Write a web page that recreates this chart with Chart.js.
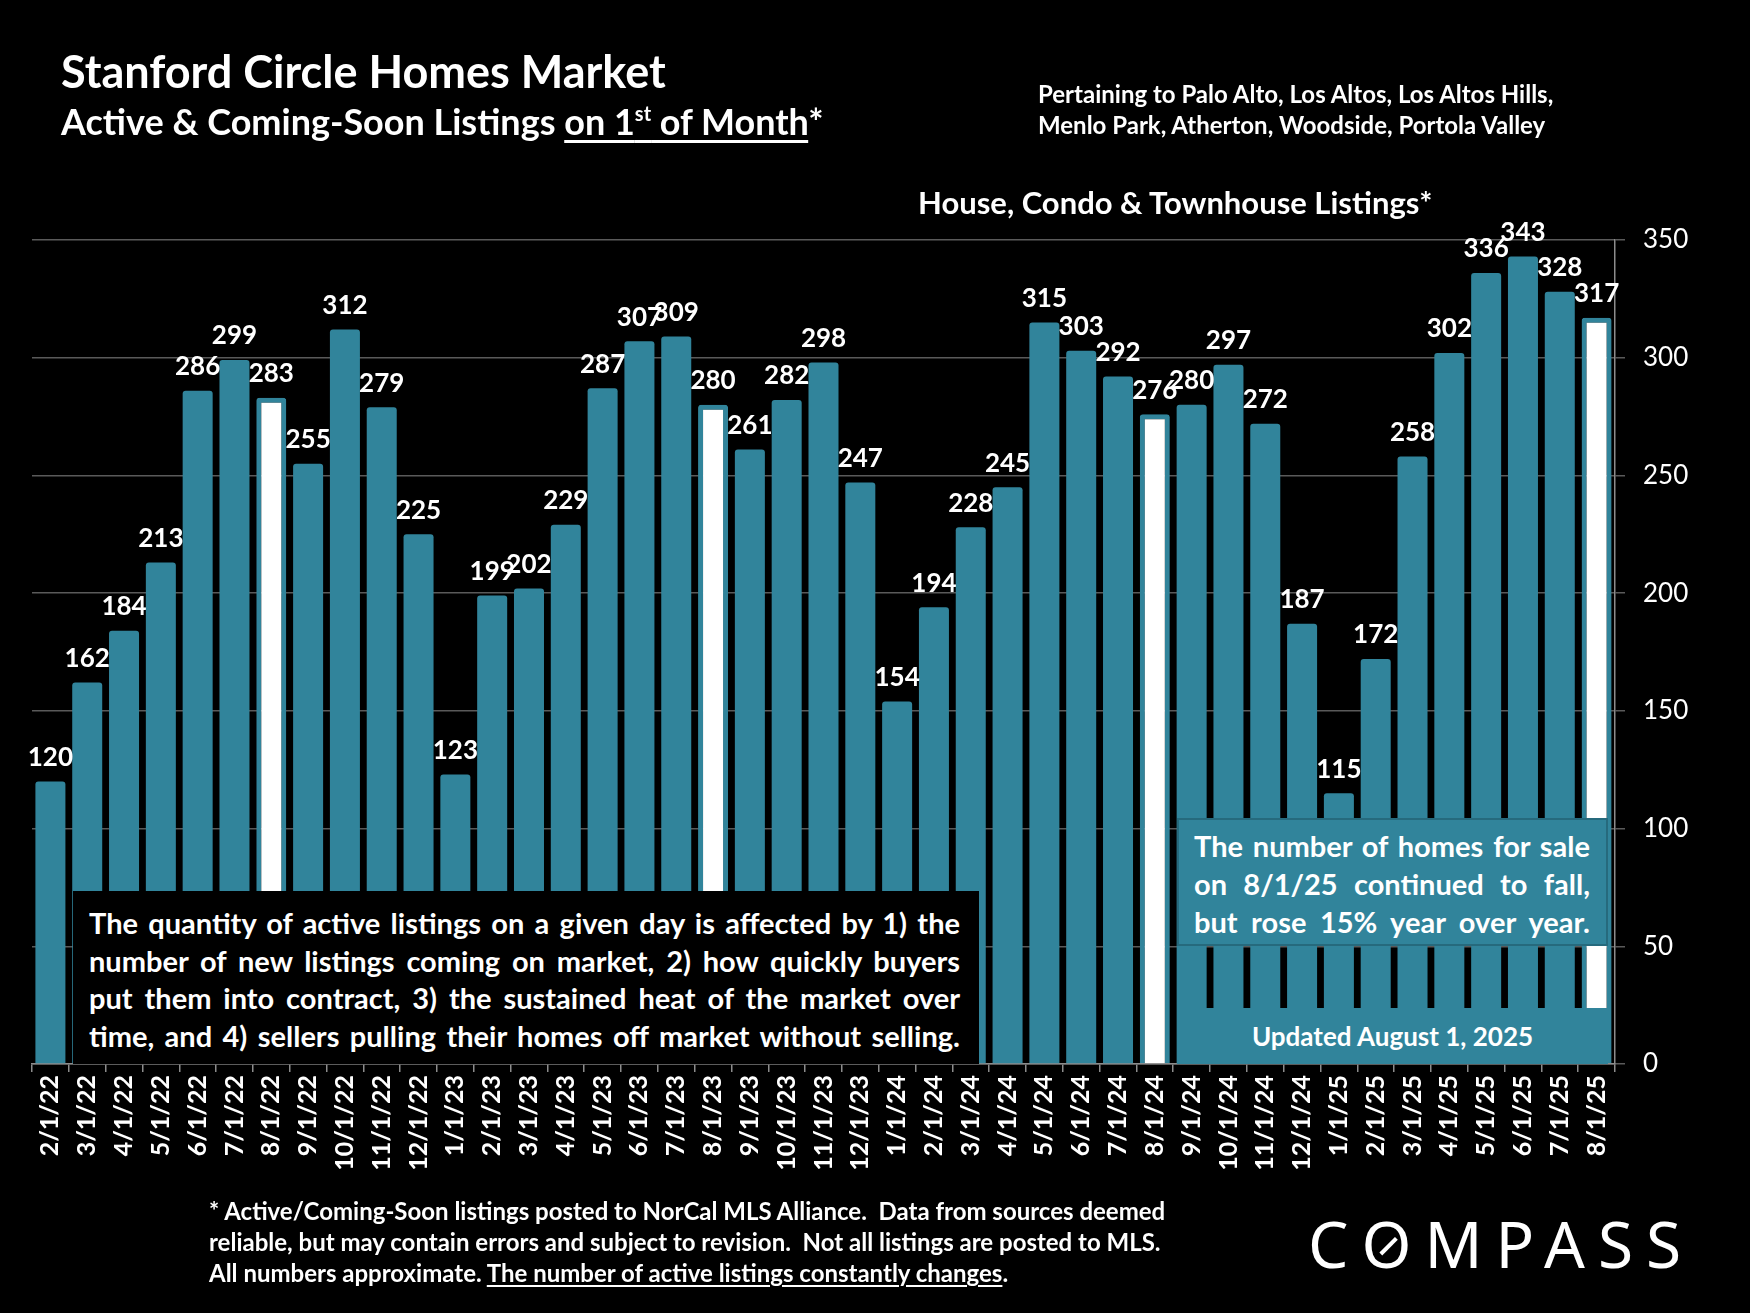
<!DOCTYPE html>
<html>
<head>
<meta charset="utf-8">
<script src="https://cdn.jsdelivr.net/npm/chart.js@4.4.1/dist/chart.umd.min.js"></script>
<style>
  html, body { margin: 0; padding: 0; background: #000; }
  #wrap { position: relative; width: 1750px; height: 1313px; background: #000; overflow: hidden; font-family: Lato, "Open Sans", sans-serif; color: #fff; }
  #grafica { position: absolute; left: 0; top: 0; }
  .txt { position: absolute; white-space: nowrap; }
  #titulo { left: 61px; top: 44px; font-size: 45px; font-weight: 700; }
  #subtitulo { left: 61px; top: 99px; font-size: 36px; font-weight: 700; }
  #subtitulo sup { font-size: 20px; vertical-align: 14px; }
  .under { text-decoration: underline; text-decoration-thickness: 3px; text-underline-offset: 5px; }
  #zona { left: 1038px; top: 78px; font-size: 24px; font-weight: 700; line-height: 31px; }
  #serie { left: 918px; top: 183px; font-size: 31px; font-weight: 700; }
  .caja { position: absolute; box-sizing: border-box; }
  .linea { text-align: justify; text-align-last: justify; white-space: nowrap; }
  #cajaIzq { left: 73px; top: 891px; width: 906px; height: 173px; background: #000; padding: 13px 19px 0 16px; font-size: 29px; font-weight: 700; line-height: 37.5px; }
  #cajaDer { left: 1177px; top: 818px; width: 431px; height: 128px; background: #31849b; border: 2px solid #266a7d; padding: 7px 16px 0 15px; font-size: 29px; font-weight: 700; line-height: 38px; }
  #cajaFecha { left: 1177px; top: 1008px; width: 431px; height: 56px; background: #31849b; font-size: 26px; font-weight: 700; text-align: center; line-height: 56px; }
  #nota { left: 209px; top: 1195px; font-size: 24px; font-weight: 700; line-height: 31px; }
  #logo { left: 1308px; top: 1200px; font-size: 64px; font-weight: 400; letter-spacing: 13px; font-family: "Noto Sans", Lato, sans-serif; }
  #logo .o { position: relative; display: inline-block; }
  #logo .o::after { content: ""; position: absolute; left: 50%; top: 50%; width: 4px; height: 22px; background: #fff; transform: translate(-160%, -40%) rotate(45deg); }
</style>
</head>
<body>
<div id="wrap">
  <canvas id="grafica" width="1750" height="1313"></canvas>

  <div class="txt" id="titulo">Stanford Circle Homes Market</div>
  <div class="txt" id="subtitulo">Active &amp; Coming-Soon Listings <span class="under">on 1<sup>st</sup> of Month</span>*</div>
  <div class="txt" id="zona">Pertaining to Palo Alto, Los Altos, Los Altos Hills,<br>Menlo Park, Atherton, Woodside, Portola Valley</div>
  <div class="txt" id="serie">House, Condo &amp; Townhouse Listings*</div>

  <div class="caja" id="cajaIzq">
    <div class="linea">The quantity of active listings on a given day is affected by 1) the</div>
    <div class="linea">number of new listings coming on market, 2) how quickly buyers</div>
    <div class="linea">put them into contract, 3) the sustained heat of the market over</div>
    <div class="linea">time, and 4) sellers pulling their homes off market without selling.</div>
  </div>
  <div class="caja" id="cajaDer">
    <div class="linea">The number of homes for sale</div>
    <div class="linea">on 8/1/25 continued to fall,</div>
    <div class="linea">but rose 15% year over year.</div>
  </div>
  <div class="caja" id="cajaFecha">Updated August 1, 2025</div>

  <div class="txt" id="nota">* Active/Coming-Soon listings posted to NorCal MLS Alliance.&nbsp; Data from sources deemed<br>reliable, but may contain errors and subject to revision.&nbsp; Not all listings are posted to MLS.<br>All numbers approximate. <span class="under" style="text-decoration-thickness:2px;text-underline-offset:3px">The number of active listings constantly changes</span>.</div>
  <div class="txt" id="logo">C<span class="o">O</span>MPASS</div>
</div>

<script>
const meses = [
    "2/1/22", "3/1/22", "4/1/22", "5/1/22", "6/1/22", "7/1/22", "8/1/22", "9/1/22", "10/1/22", "11/1/22", "12/1/22",
    "1/1/23", "2/1/23", "3/1/23", "4/1/23", "5/1/23", "6/1/23", "7/1/23", "8/1/23", "9/1/23", "10/1/23", "11/1/23", "12/1/23",
    "1/1/24", "2/1/24", "3/1/24", "4/1/24", "5/1/24", "6/1/24", "7/1/24", "8/1/24", "9/1/24", "10/1/24", "11/1/24", "12/1/24",
    "1/1/25", "2/1/25", "3/1/25", "4/1/25", "5/1/25", "6/1/25", "7/1/25", "8/1/25"
];
const listados = [
    120, 162, 184, 213, 286, 299, 283, 255, 312, 279, 225,
    123, 199, 202, 229, 287, 307, 309, 280, 261, 282, 298, 247,
    154, 194, 228, 245, 315, 303, 292, 276, 280, 297, 272, 187,
    115, 172, 258, 302, 336, 343, 328, 317
];
const ticksY = [0, 50, 100, 150, 200, 250, 300, 350];

const teal = "#31849b";
const esAgosto = (m) => m.startsWith("8/");

// etiquetas de valor encima de cada barra
const etiquetasBarras = {
    id: "etiquetasBarras",
    afterDatasetsDraw(chart) {
        const ctx = chart.ctx;
        const meta = chart.getDatasetMeta(0);
        ctx.save();
        ctx.fillStyle = "#fff";
        ctx.font = "bold 26px Lato, sans-serif";
        ctx.textAlign = "center";
        ctx.textBaseline = "bottom";
        meta.data.forEach((bar, i) => {
            ctx.fillText(String(listados[i]), bar.x, bar.y - 11);
        });
        ctx.restore();
    }
};

const config = {
    type: "bar",
    data: {
        labels: meses,
        datasets: [{
            label: "Listings",
            data: listados,
            backgroundColor: meses.map((m) => esAgosto(m) ? "#ffffff" : teal),
            borderColor: teal,
            borderWidth: meses.map((m) => esAgosto(m) ? 5 : 0),
            borderRadius: 3,
            borderSkipped: "start",
            barPercentage: 0.815,
            categoryPercentage: 1.0
        }]
    },
    options: {
        responsive: false,
        devicePixelRatio: 1,
        animation: false,
        layout: { padding: { left: 32, top: 240, right: 0, bottom: 139 } },
        plugins: {
            legend: { display: false },
            title: { display: false },
            tooltip: { enabled: false }
        },
        scales: {
            x: {
                grid: { display: true, drawOnChartArea: false, drawTicks: true, tickLength: 8, color: "#8c8c8c", lineWidth: 1.5 },
                border: { display: true, color: "#8c8c8c", width: 1.5 },
                ticks: {
                    color: "#fff",
                    font: { family: "Lato", weight: "bold", size: 25 },
                    minRotation: 90,
                    maxRotation: 90,
                    autoSkip: false,
                    padding: 3
                },
                afterFit(scale) { scale.height = 110; }
            },
            y: {
                position: "right",
                min: 0,
                max: 350,
                afterBuildTicks(scale) { scale.ticks = ticksY.map((v) => ({ value: v })); },
                grid: { color: "#5a5a5a", lineWidth: 1.5, tickLength: 10, drawTicks: true },
                border: { display: true, color: "#8c8c8c", width: 1.5 },
                ticks: {
                    color: "#fff",
                    font: { family: "Lato", size: 26 },
                    padding: 18
                },
                afterFit(scale) { scale.width = 135; }
            }
        }
    },
    plugins: [etiquetasBarras]
};

new Chart(document.getElementById("grafica"), config);
</script>
</body>
</html>
